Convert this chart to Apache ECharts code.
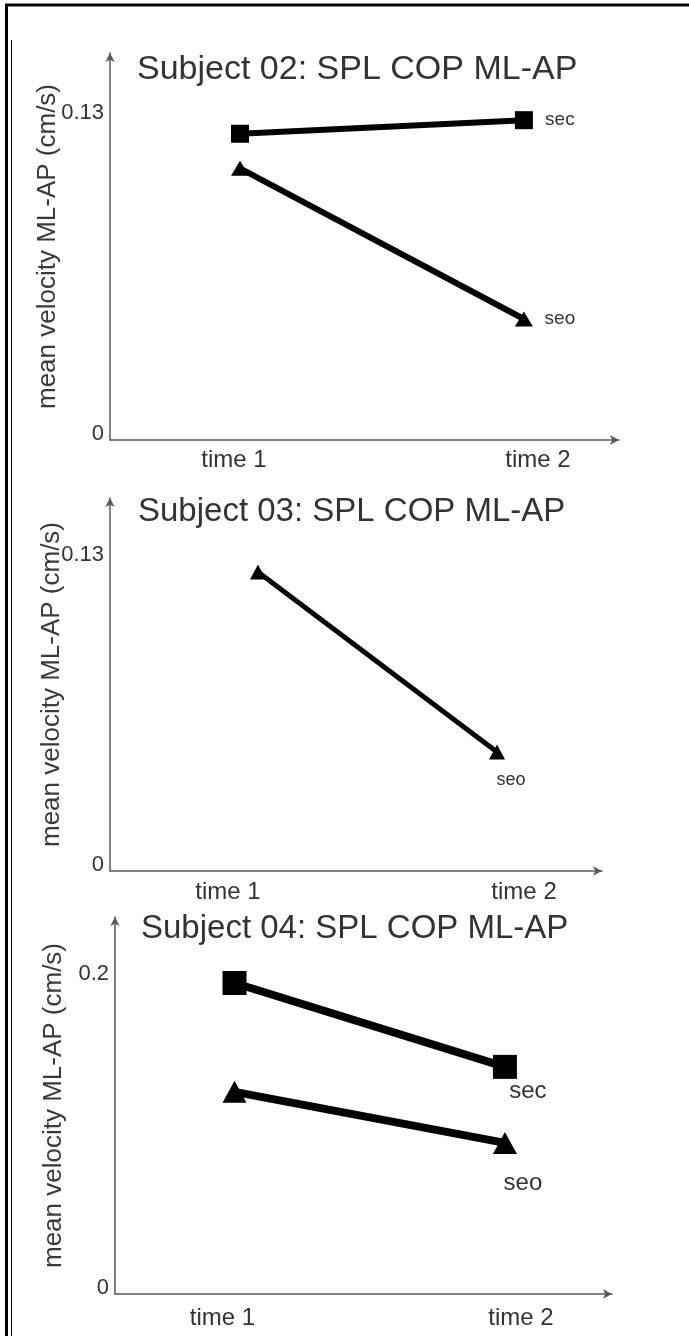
<!DOCTYPE html>
<html>
<head>
<meta charset="utf-8">
<script src="https://cdn.jsdelivr.net/npm/echarts@6/dist/echarts.min.js"></script>
<style>
  html, body { margin: 0; padding: 0; background: #fff; }
  #chart { width: 689px; height: 1336px; }
</style>
</head>
<body>
<div id="chart"></div>
<script>
// ---- data ----
const timeLabels = ['time 1', 'time 2'];
const yAxisName = 'mean velocity ML-AP (cm/s)';

const s02Title = 'Subject 02: SPL COP ML-AP';
const s02Ticks = [0, 0.13];
const s02Sec = [0.124, 0.1295];
const s02Seo = [0.110, 0.049];

const s03Title = 'Subject 03: SPL COP ML-AP';
const s03Ticks = [0, 0.13];
const s03Seo = [0.1254, 0.0499];

const s04Title = 'Subject 04: SPL COP ML-AP';
const s04Ticks = [0, 0.2];
const s04Sec = [0.198, 0.1446];
const s04Seo = [0.1287, 0.0962];

// ---- layout / style ----
const FONT = "'Liberation Sans', Arial, Helvetica, sans-serif";
const TXT = '#333';
const AX = '#5a5a5a';

const panels = [
  {
    title: s02Title, titleLeft: 137, titleTop: 53, titleFs: 34,
    grid: { left: 110, top: 53, width: 509, height: 387 },
    xMin: 0.542, xMax: 2.335, yMax: 0.1567, ticks: s02Ticks,
    nameGap: 49, xMargin: 8, xShift: [-6, 14],
    series: [
      { name: 'sec', values: s02Sec, symbol: 'rect', size: 18, lw: 6, off: [36, 0], fs: 19 },
      { name: 'seo', values: s02Seo, symbol: 'triangle', size: [18, 15], lw: 6, off: [36, 0], fs: 19 }
    ]
  },
  {
    title: s03Title, titleLeft: 138, titleTop: 495, titleFs: 33,
    grid: { left: 110, top: 498, width: 492, height: 373 },
    xMin: 0.381, xMax: 2.439, yMax: 0.1564, ticks: s03Ticks,
    nameGap: 45, xMargin: 9, xShift: [-30, 27],
    series: [
      { name: 'seo', values: s03Seo, symbol: 'triangle', size: [16, 15], lw: 5, off: [14, 28], fs: 18 }
    ]
  },
  {
    title: s04Title, titleLeft: 141, titleTop: 912, titleFs: 33,
    grid: { left: 115, top: 917, width: 497, height: 377 },
    xMin: 0.558, xMax: 2.396, yMax: 0.240, ticks: s04Ticks,
    nameGap: 48, xMargin: 12, xShift: [-12, 16],
    series: [
      { name: 'sec', values: s04Sec, symbol: 'rect', size: 24, lw: 8, off: [23, 25], fs: 24 },
      { name: 'seo', values: s04Seo, symbol: 'triangle', size: [24, 22], lw: 8, off: [18, 40], fs: 24 }
    ]
  }
];

const option = {
  backgroundColor: '#fff',
  animation: false,
  title: [], grid: [], xAxis: [], yAxis: [], series: [],
  graphic: [
    { type: 'line', shape: { x1: 5, y1: 5, x2: 689, y2: 5 }, style: { stroke: '#000', lineWidth: 3 } },
    { type: 'line', shape: { x1: 6.5, y1: 4, x2: 6.5, y2: 1336 }, style: { stroke: '#000', lineWidth: 3 } },
    { type: 'line', shape: { x1: 11.5, y1: 40, x2: 11.5, y2: 1336 }, style: { stroke: '#000', lineWidth: 1 } }
  ]
};

panels.forEach((p, i) => {
  option.title.push({
    text: p.title, left: p.titleLeft, top: p.titleTop, padding: 0,
    textStyle: { fontFamily: FONT, fontSize: p.titleFs, fontWeight: 'normal', color: TXT }
  });
  option.grid.push(Object.assign({ containLabel: false }, p.grid));
  option.xAxis.push({
    type: 'value', gridIndex: i, min: p.xMin, max: p.xMax,
    splitLine: { show: false }, axisTick: { show: false },
    axisLine: { show: true, onZero: false, symbol: ['none', 'arrow'], symbolSize: [7, 9],
      lineStyle: { color: AX, width: 1.5 } },
    axisLabel: {
      customValues: [1, 2], margin: p.xMargin,
      formatter: v => (Math.abs(v - 1) < 1e-9 ? '{l|' + timeLabels[0] + '}' : '{r|' + timeLabels[1] + '}'),
      rich: {
        l: { fontFamily: FONT, fontSize: 24, color: TXT, padding: [0, -2 * p.xShift[0], 0, 0] },
        r: { fontFamily: FONT, fontSize: 24, color: TXT, padding: [0, 0, 0, 2 * p.xShift[1]] }
      }
    }
  });
  option.yAxis.push({
    type: 'value', gridIndex: i, min: 0, max: p.yMax,
    splitLine: { show: false }, axisTick: { show: false },
    axisLine: { show: true, onZero: false, symbol: ['none', 'arrow'], symbolSize: [7, 9],
      lineStyle: { color: AX, width: 1.5 } },
    axisLabel: {
      customValues: p.ticks, margin: 6, verticalAlign: 'bottom', lineHeight: 12,
      fontFamily: FONT, fontSize: 22, color: TXT
    },
    name: yAxisName, nameLocation: 'middle', nameRotate: 90, nameGap: p.nameGap,
    nameMoveOverlap: false,
    nameTextStyle: { fontFamily: FONT, fontSize: 26, color: '#3a3a3a' }
  });
  p.series.forEach(s => {
    const data = s.values.map((v, k) => {
      const item = { value: [k + 1, v] };
      if (k === s.values.length - 1) {
        item.label = {
          show: true, position: 'inside', offset: s.off, formatter: s.name,
          fontFamily: FONT, fontSize: s.fs, color: TXT, textBorderWidth: 0
        };
      }
      return item;
    });
    option.series.push({
      type: 'line', name: s.name, xAxisIndex: i, yAxisIndex: i,
      data: data, symbol: s.symbol, symbolSize: s.size, showSymbol: true,
      itemStyle: { color: '#000' }, lineStyle: { color: '#000', width: s.lw },
      label: { show: false }, z: 3
    });
  });
});

const chart = echarts.init(document.getElementById('chart'), null, { renderer: 'canvas' });
chart.setOption(option);
</script>
</body>
</html>
